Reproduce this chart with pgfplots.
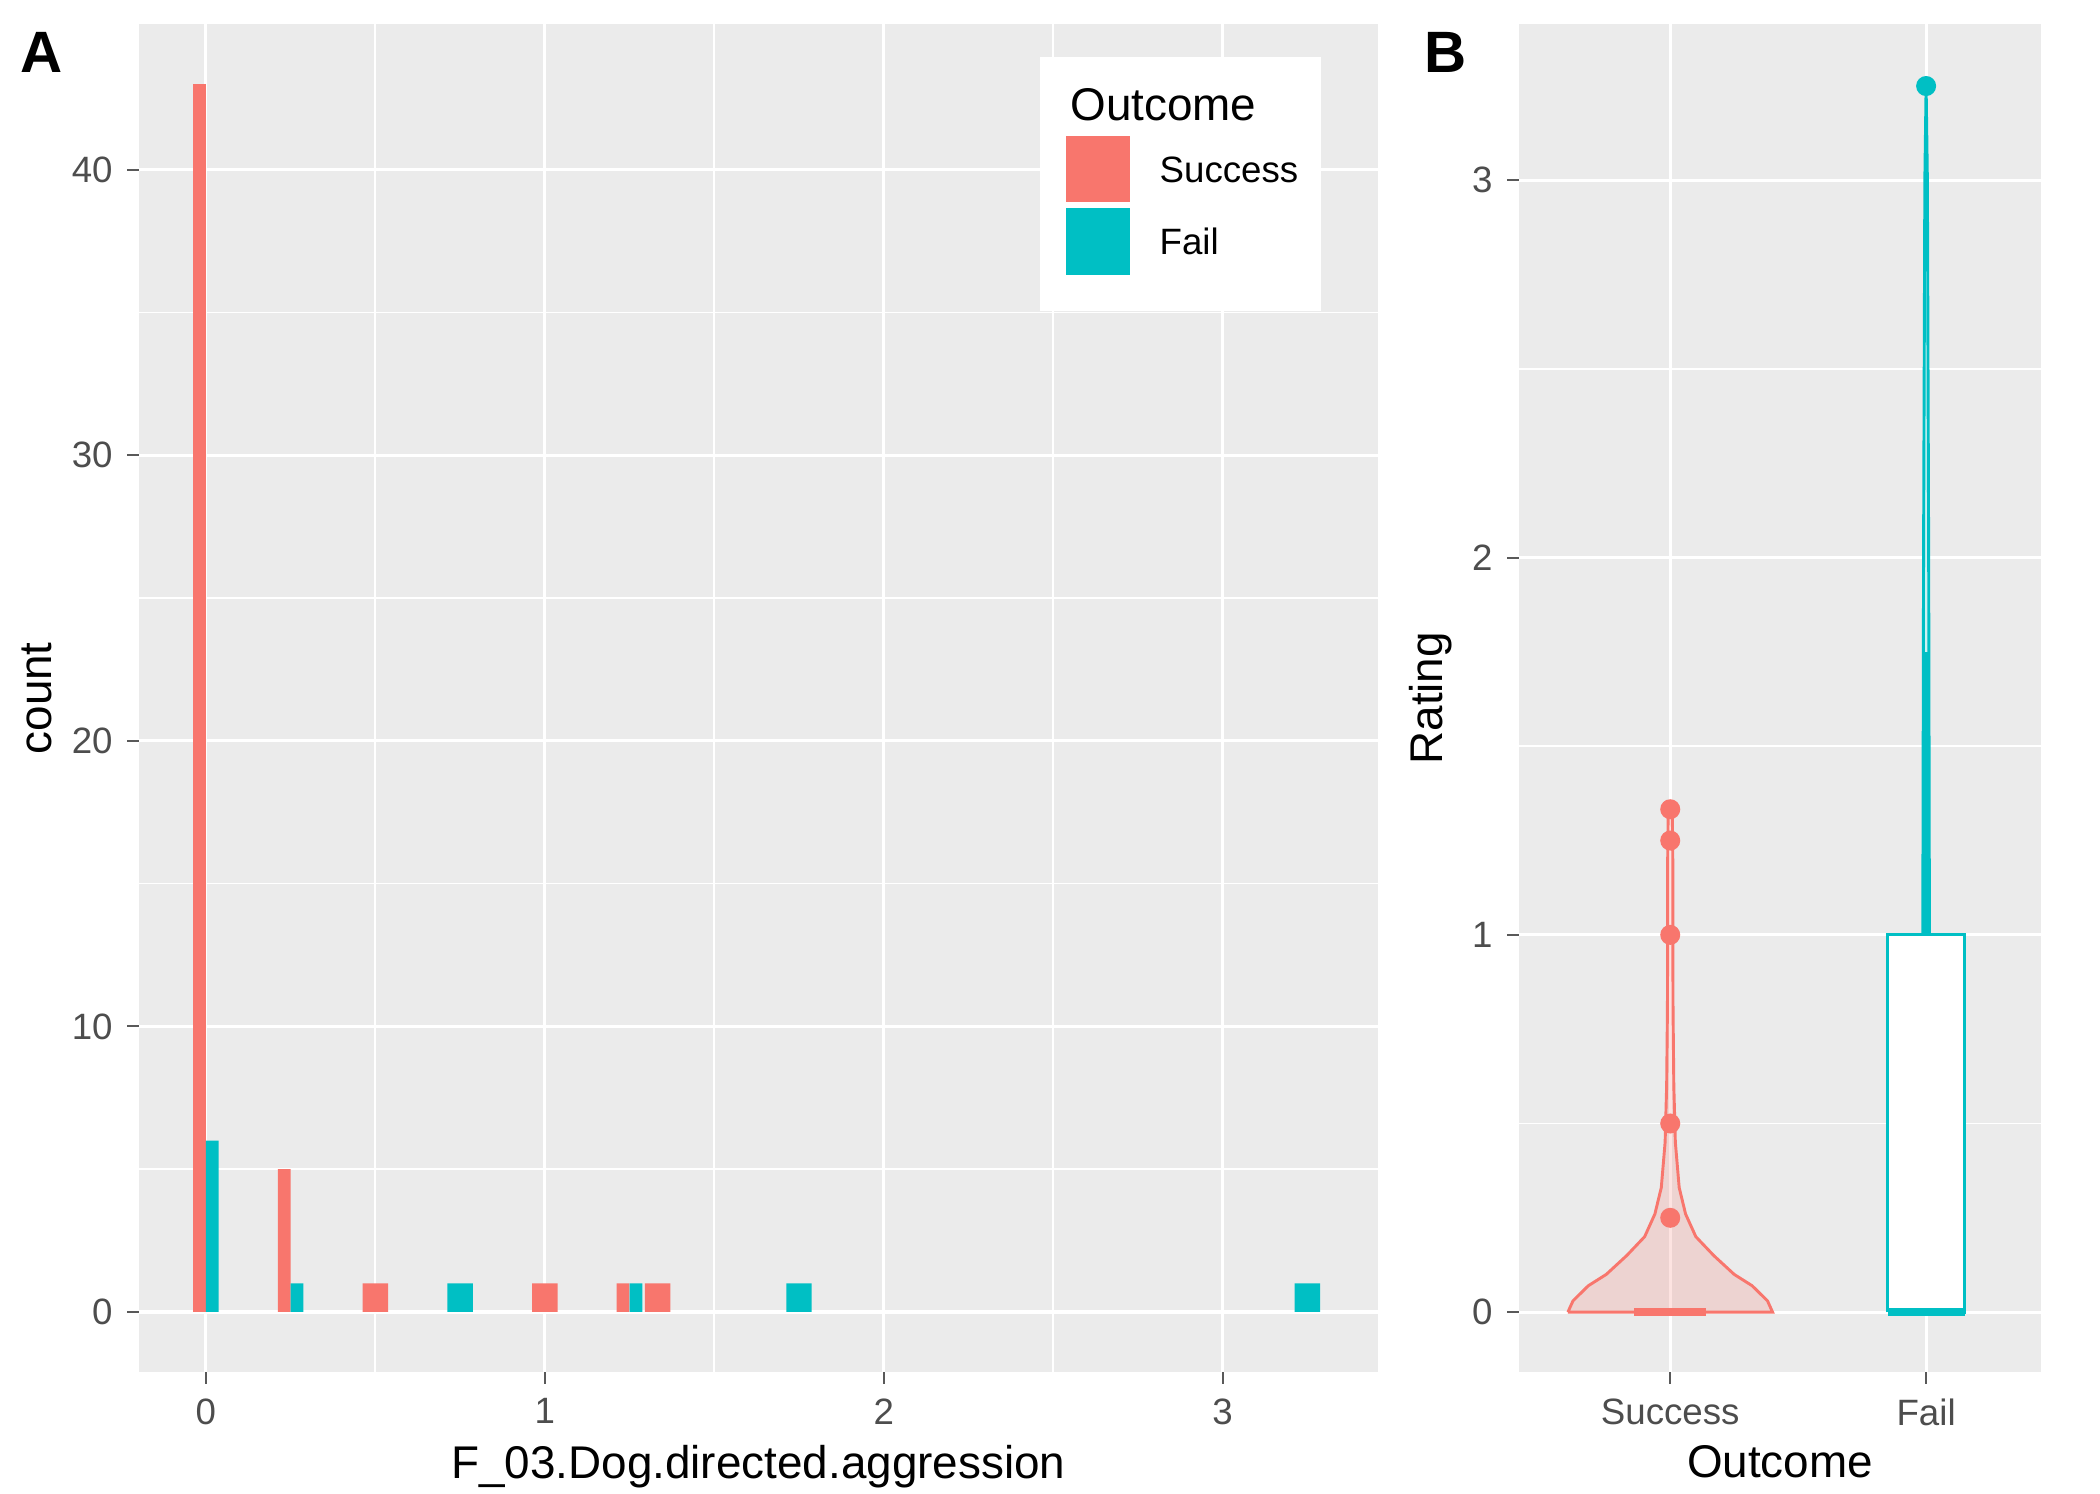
\documentclass[border=0pt]{standalone}
\usepackage{pgfplots}
\pgfplotsset{compat=1.18}
\usepackage{fontspec}
\setmainfont{Liberation Sans}
\definecolor{ggbg}{HTML}{EBEBEB}
\definecolor{sc}{HTML}{F8766D}
\definecolor{fc}{HTML}{00BFC4}
\definecolor{tk}{HTML}{4D4D4D}
\pgfplotsset{gg/.style={
  scale only axis, axis background/.style={fill=ggbg},
  axis line style={draw=none}, tick align=outside,
  xtick pos=bottom, ytick pos=left,
  major tick length=2.75pt, minor tick length=0pt,
  tick style={color=gray!70!black, line width=0.5pt},
  grid=both, major grid style={white, line width=0.75pt},
  minor grid style={white, line width=0.4pt},
  ticklabel style={font=\fontsize{8.8}{10}\selectfont, text=tk},
  /pgf/number format/assume math mode=true,
  label style={font=\fontsize{11}{13}\selectfont},
}}
\begin{document}
\begin{tikzpicture}
\useasboundingbox (0,0) rectangle (504pt,358.5pt);
\begin{axis}[gg, at={(33.3pt,29.1pt)}, anchor=south west,
  width=297.4pt, height=323.6pt,
  xmin=-0.198, xmax=3.458, ymin=-2.12, ymax=45.1,
  xtick={0,1,2,3}, minor xtick={-0.5,0.5,1.5,2.5,3.5},
  ytick={0,10,20,30,40}, minor ytick={5,15,25,35},
  xlabel={F\_03.Dog.directed.aggression}, ylabel={count},
  xlabel style={yshift=2pt}, ylabel style={yshift=-2pt}]
\addplot[ybar, bar width=0.0375, bar shift=0pt, fill=sc, draw=none] coordinates {(-0.0188,43) (0.231,5) (1.231,1)};
\addplot[ybar, bar width=0.0375, bar shift=0pt, fill=fc, draw=none] coordinates {(0.0188,6) (0.269,1) (1.269,1)};
\addplot[ybar, bar width=0.075, bar shift=0pt, fill=sc, draw=none] coordinates {(0.5,1) (1.0,1) (1.333,1)};
\addplot[ybar, bar width=0.075, bar shift=0pt, fill=fc, draw=none] coordinates {(0.75,1) (1.75,1) (3.25,1)};
\fill[white] (rel axis cs:0.727,0.787) rectangle (rel axis cs:0.954,0.976);
\node[anchor=west, font=\fontsize{11}{13}\selectfont] at (rel axis cs:0.740,0.94) {Outcome};
\fill[sc] (rel axis cs:0.748,0.868) rectangle (rel axis cs:0.800,0.917);
\fill[fc] (rel axis cs:0.748,0.814) rectangle (rel axis cs:0.800,0.864);
\node[anchor=west, font=\fontsize{8.8}{10}\selectfont] at (rel axis cs:0.812,0.892) {Success};
\node[anchor=west, font=\fontsize{8.8}{10}\selectfont] at (rel axis cs:0.812,0.839) {Fail};
\end{axis}
\node[font=\fontsize{14}{16}\selectfont\bfseries] at (10pt,346pt) {A};
\node[font=\fontsize{14}{16}\selectfont\bfseries] at (347pt,346pt) {B};
\begin{axis}[gg, at={(364.5pt,29.1pt)}, anchor=south west,
  width=125.4pt, height=323.6pt,
  xmin=0.408, xmax=2.45, ymin=-0.16, ymax=3.414,
  xtick={1,2}, xticklabels={Success,Fail}, minor xtick={},
  ytick={0,1,2,3}, minor ytick={0.5,1.5,2.5},
  xlabel={Outcome}, ylabel={Rating},
  xlabel style={yshift=2pt}, ylabel style={yshift=-2pt}]
\addplot[sc, line width=0.7pt, fill=sc, fill opacity=0.2, draw opacity=1] coordinates {
(0.6,0) (0.62,0.03) (0.68,0.07) (0.75,0.1) (0.83,0.15) (0.9,0.2) (0.94,0.26) (0.965,0.33) (0.98,0.45) (0.986,0.6) (0.989,0.8) (0.99,1.0) (0.99,1.2) (0.992,1.33) (1,1.335)
(1.008,1.33) (1.01,1.2) (1.01,1.0) (1.011,0.8) (1.014,0.6) (1.02,0.45) (1.035,0.33) (1.06,0.26) (1.1,0.2) (1.17,0.15) (1.25,0.1) (1.32,0.07) (1.38,0.03) (1.4,0) (0.6,0)};
\addplot[sc, line width=2pt] coordinates {(0.86,0) (1.14,0)};
\addplot[only marks, mark=*, mark size=2.2pt, sc] coordinates {(1,0.25) (1,0.5) (1,1) (1,1.25) (1,1.333)};
\addplot[fc, line width=0.7pt, fill=fc, fill opacity=0.2] coordinates {
(1.975,0) (1.982,0.3) (1.987,1) (1.99,2) (1.995,3) (2,3.25) (2.005,3) (2.01,2) (2.013,1) (2.018,0.3) (2.025,0) (1.975,0)};
\addplot[fc, line width=0.7pt, fill=white] coordinates {(1.85,0) (1.85,1) (2.15,1) (2.15,0) (1.85,0)};
\addplot[fc, line width=1.2pt] coordinates {(2,1) (2,1.75)};
\addplot[fc, line width=2pt] coordinates {(1.85,0) (2.15,0)};
\addplot[only marks, mark=*, mark size=2.2pt, fc] coordinates {(2,3.25)};
\end{axis}
\end{tikzpicture}
\end{document}
